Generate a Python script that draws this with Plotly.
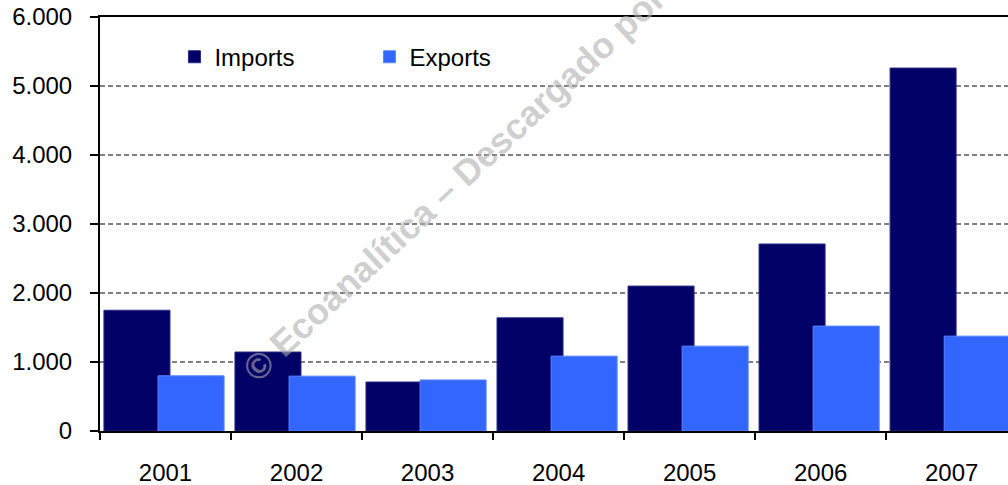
import plotly.graph_objects as go

years = ["2001", "2002", "2003", "2004", "2005", "2006", "2007"]
imports = [1750, 1145, 710, 1640, 2100, 2710, 5260]
exports = [800, 795, 740, 1085, 1230, 1520, 1375]

y_ticks = [0, 1000, 2000, 3000, 4000, 5000, 6000]
y_labels = ["0", "1.000", "2.000", "3.000", "4.000", "5.000", "6.000"]

font = "Liberation Sans, Arial, sans-serif"

fig = go.Figure()
fig.add_trace(go.Bar(
    x=years, y=imports, name="Imports",
    marker=dict(color="#000066", line=dict(color="#2a2a85", width=1)),
    width=0.504, offset=-0.47,
))
fig.add_trace(go.Bar(
    x=years, y=exports, name="Exports",
    marker=dict(color="#3366FF", line=dict(color="#5a86ff", width=1)),
    width=0.504, offset=-0.057,
))

# watermark, runs off the top edge like in the source image
fig.add_annotation(
    text="<b>© Ecoanalítica – Descargado por</b>",
    xref="paper", yref="paper", x=0.39, y=0.597,
    showarrow=False, textangle=-43,
    font=dict(family=font, size=36, color="rgba(175,175,175,0.6)"),
)

fig.update_layout(
    template="none",
    width=1008, height=485,
    margin=dict(l=100, r=0, t=17, b=54, autoexpand=False),
    barmode="overlay",
    plot_bgcolor="white", paper_bgcolor="white",
    font=dict(family=font, size=24, color="black"),
    showlegend=True,
    legend=dict(
        orientation="h", x=0.082, y=0.903, yanchor="middle", xanchor="left",
        font=dict(size=24), bgcolor="rgba(0,0,0,0)",
        entrywidth=150, entrywidthmode="pixels",
    ),
    hovermode=False,
)
fig.update_xaxes(
    type="category", range=[-0.5, 6.43], automargin=False,
    showline=True, linecolor="black", linewidth=2, mirror=True,
    ticks="outside", ticklen=7, tickwidth=1.5, tickcolor="black",
    tickson="boundaries", ticklabelstandoff=19,
    showgrid=False,
)
fig.update_yaxes(
    range=[0, 6000], tickvals=y_ticks, ticktext=y_labels, automargin=False,
    showline=True, linecolor="black", linewidth=2,
    ticks="outside", ticklen=8, tickwidth=2, tickcolor="black",
    ticklabelstandoff=13,
    showgrid=True, gridcolor="#808080", gridwidth=1.5, griddash="5px,3px",
    zeroline=False,
)

# drop the browser's default body margin so the figure fills the window
fig.write_html(
    "out.html",
    config={"displayModeBar": False},
    post_script="document.body.style.margin='0px';",
)
